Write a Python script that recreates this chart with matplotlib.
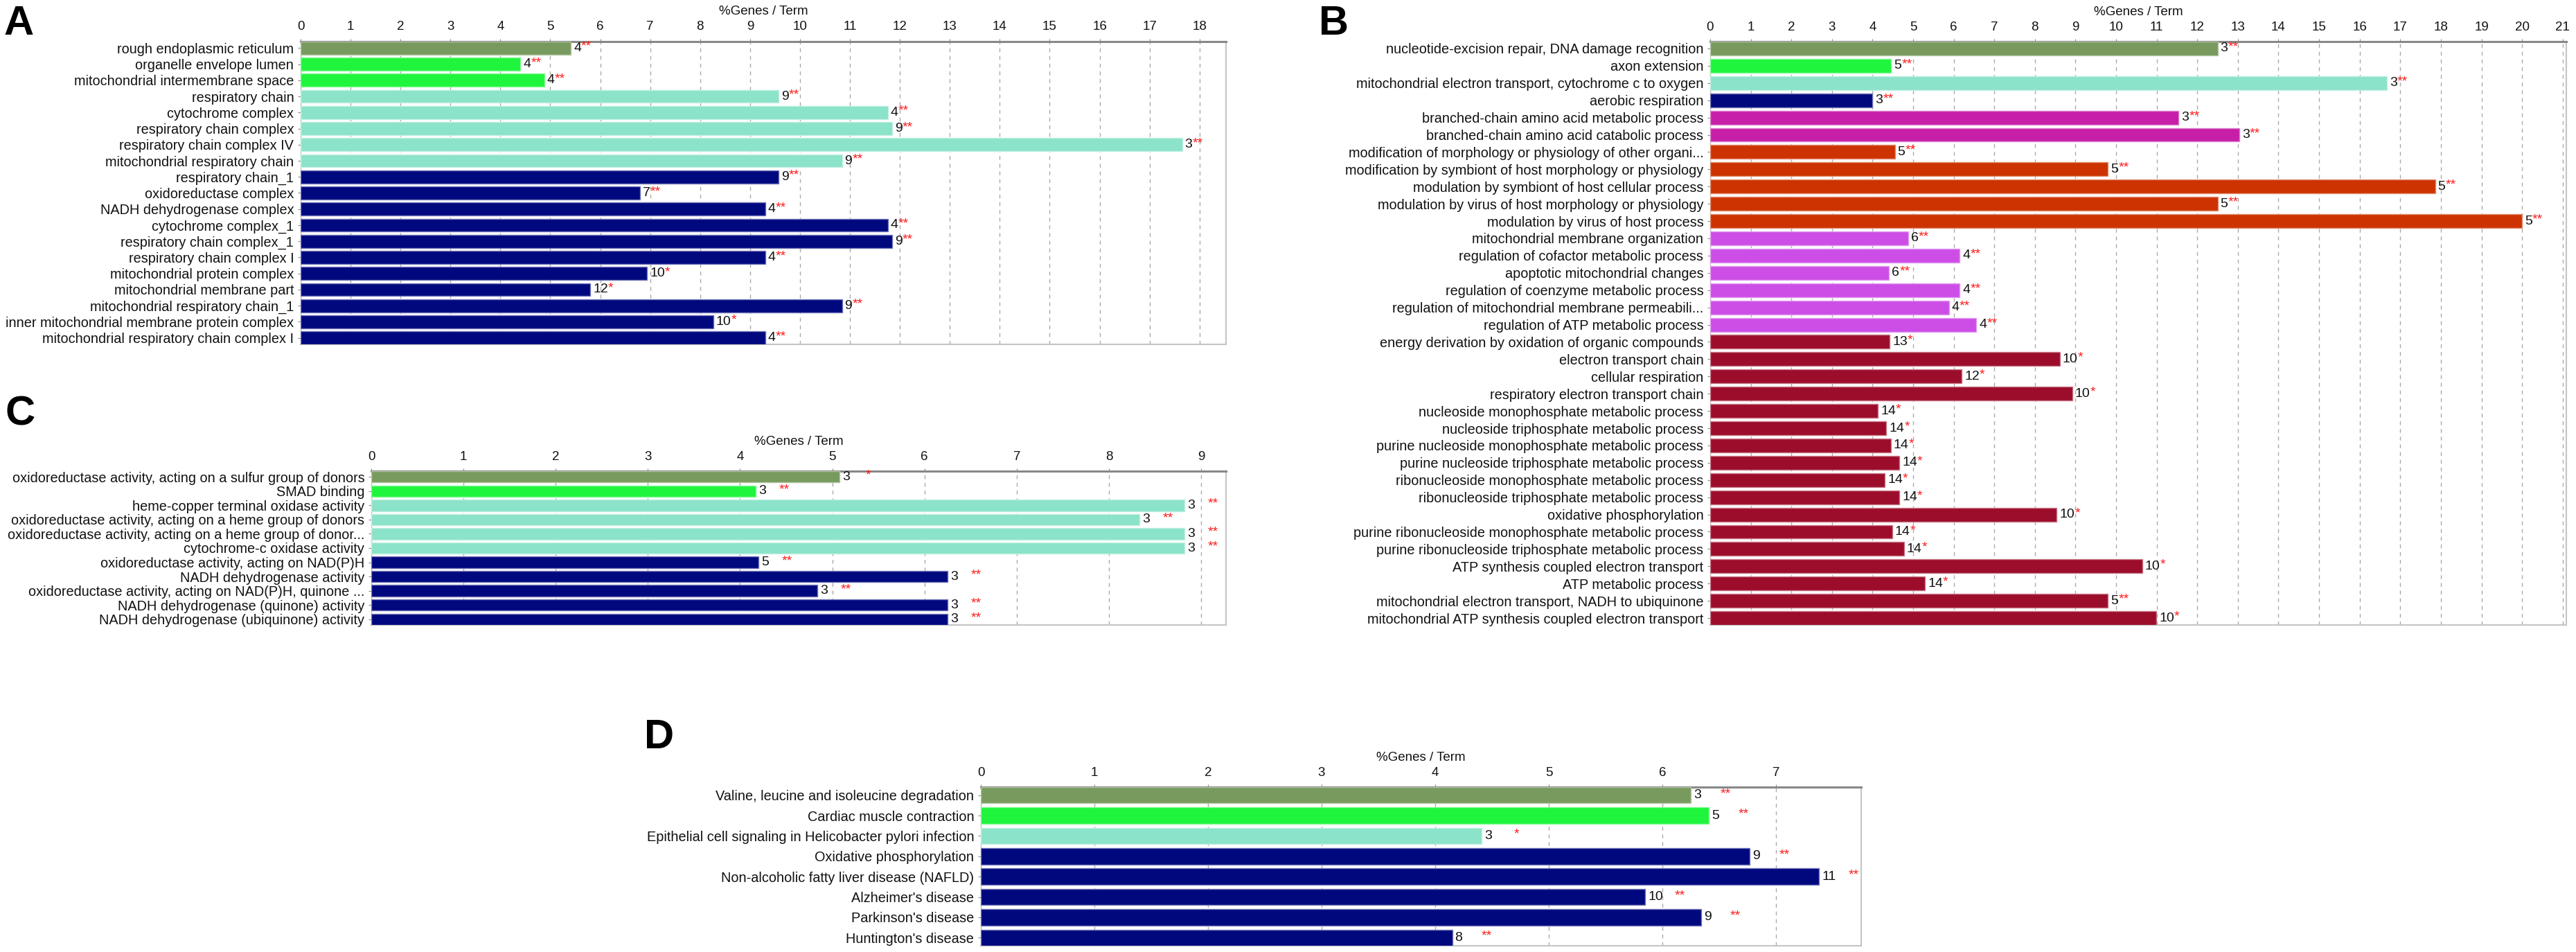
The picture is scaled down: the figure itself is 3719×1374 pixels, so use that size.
import matplotlib
matplotlib.use("Agg")
import matplotlib.pyplot as plt
from matplotlib import colors as mcolors

W, H, DPI = 3719, 1374, 100
FONT = ["Liberation Sans", "DejaVu Sans"]
plt.rcParams["font.family"] = FONT

# ---------------- data ----------------
olive, green, aqua, navy = "#789a5e", "#1ef53c", "#8be3c9", "#00087e"
magenta, orange, lpurple, darkred = "#c71fa8", "#cc3300", "#cc4ee6", "#9c0d2b"

a_terms = ["rough endoplasmic reticulum", "organelle envelope lumen",
           "mitochondrial intermembrane space", "respiratory chain",
           "cytochrome complex", "respiratory chain complex",
           "respiratory chain complex IV", "mitochondrial respiratory chain",
           "respiratory chain_1", "oxidoreductase complex",
           "NADH dehydrogenase complex", "cytochrome complex_1",
           "respiratory chain complex_1", "respiratory chain complex I",
           "mitochondrial protein complex", "mitochondrial membrane part",
           "mitochondrial respiratory chain_1",
           "inner mitochondrial membrane protein complex",
           "mitochondrial respiratory chain complex I"]
a_values = [5.41, 4.40, 4.88, 9.57, 11.76, 11.84, 17.65, 10.84, 9.57, 6.80,
            9.30, 11.76, 11.84, 9.30, 6.94, 5.80, 10.84, 8.26, 9.30]
a_counts = ["4", "4", "4", "9", "4", "9", "3", "9", "9", "7", "4", "4", "9",
            "4", "10", "12", "9", "10", "4"]
a_stars = ["**"] * 14 + ["*", "*", "**", "*", "**"]
a_colors = [olive] + [green] * 2 + [aqua] * 5 + [navy] * 11
a_ticks = list(range(0, 19))

b_terms = ["nucleotide-excision repair, DNA damage recognition", "axon extension",
           "mitochondrial electron transport, cytochrome c to oxygen",
           "aerobic respiration", "branched-chain amino acid metabolic process",
           "branched-chain amino acid catabolic process",
           "modification of morphology or physiology of other organi...",
           "modification by symbiont of host morphology or physiology",
           "modulation by symbiont of host cellular process",
           "modulation by virus of host morphology or physiology",
           "modulation by virus of host process",
           "mitochondrial membrane organization",
           "regulation of cofactor metabolic process",
           "apoptotic mitochondrial changes",
           "regulation of coenzyme metabolic process",
           "regulation of mitochondrial membrane permeabili...",
           "regulation of ATP metabolic process",
           "energy derivation by oxidation of organic compounds",
           "electron transport chain", "cellular respiration",
           "respiratory electron transport chain",
           "nucleoside monophosphate metabolic process",
           "nucleoside triphosphate metabolic process",
           "purine nucleoside monophosphate metabolic process",
           "purine nucleoside triphosphate metabolic process",
           "ribonucleoside monophosphate metabolic process",
           "ribonucleoside triphosphate metabolic process",
           "oxidative phosphorylation",
           "purine ribonucleoside monophosphate metabolic process",
           "purine ribonucleoside triphosphate metabolic process",
           "ATP synthesis coupled electron transport",
           "ATP metabolic process",
           "mitochondrial electron transport, NADH to ubiquinone",
           "mitochondrial ATP synthesis coupled electron transport"]
b_values = [12.50, 4.46, 16.67, 4.00, 11.54, 13.04, 4.55, 9.80, 17.86, 12.50,
            20.00, 4.88, 6.15, 4.41, 6.15, 5.88, 6.56, 4.42, 8.61, 6.20, 8.92,
            4.13, 4.34, 4.45, 4.66, 4.30, 4.66, 8.54, 4.48, 4.77, 10.64, 5.29,
            9.80, 10.99]
b_counts = ["3", "5", "3", "3", "3", "3", "5", "5", "5", "5", "5", "6", "4", "6",
            "4", "4", "4", "13", "10", "12", "10", "14", "14", "14", "14", "14",
            "14", "10", "14", "14", "10", "14", "5", "10"]
b_stars = ["**"] * 17 + ["*"] * 15 + ["**", "*"]
b_colors = ([olive, green, aqua, navy] + [magenta] * 2 + [orange] * 5 +
            [lpurple] * 6 + [darkred] * 17)
b_ticks = list(range(0, 22))

c_terms = ["oxidoreductase activity, acting on a sulfur group of donors",
           "SMAD binding", "heme-copper terminal oxidase activity",
           "oxidoreductase activity, acting on a heme group of donors",
           "oxidoreductase activity, acting on a heme group of donor...",
           "cytochrome-c oxidase activity",
           "oxidoreductase activity, acting on NAD(P)H",
           "NADH dehydrogenase activity",
           "oxidoreductase activity, acting on NAD(P)H, quinone ...",
           "NADH dehydrogenase (quinone) activity",
           "NADH dehydrogenase (ubiquinone) activity"]
c_values = [5.08, 4.17, 8.82, 8.33, 8.82, 8.82, 4.20, 6.25, 4.84, 6.25, 6.25]
c_counts = ["3", "3", "3", "3", "3", "3", "5", "3", "3", "3", "3"]
c_stars = ["*"] + ["**"] * 10
c_colors = [olive, green] + [aqua] * 4 + [navy] * 5
c_ticks = list(range(0, 10))

d_terms = ["Valine, leucine and isoleucine degradation",
           "Cardiac muscle contraction",
           "Epithelial cell signaling in Helicobacter pylori infection",
           "Oxidative phosphorylation",
           "Non-alcoholic fatty liver disease (NAFLD)",
           "Alzheimer's disease", "Parkinson's disease", "Huntington's disease"]
d_values = [6.25, 6.41, 4.41, 6.77, 7.38, 5.85, 6.34, 4.15]
d_counts = ["3", "5", "3", "9", "11", "10", "9", "8"]
d_stars = ["**", "**", "*", "**", "**", "**", "**", "**"]
d_colors = [olive, green, aqua] + [navy] * 5
d_ticks = list(range(0, 8))

# ---------------- drawing ----------------
fig = plt.figure(figsize=(W / DPI, H / DPI), dpi=DPI)
PT = 72.0 / DPI  # points per pixel


def lighten(c, f):
    r, g, b = mcolors.to_rgb(c)
    return (r + (1 - r) * f, g + (1 - g) * f, b + (1 - b) * f)


def add_axes(left, top, right, bottom):
    return fig.add_axes([left / W, 1 - bottom / H, (right - left) / W,
                         (bottom - top) / H])


def panel(box, terms, values, counts, stars, cols, ticks, xmax,
          star_off, star_ha, label_fs=14.3):
    ax = add_axes(*box)
    n = len(terms)
    ys = list(range(n))
    ax.barh(ys, values, height=0.8, color=cols,
            edgecolor=[lighten(c, 0.45) for c in cols], linewidth=1.0,
            zorder=3)
    ax.set_xlim(0, xmax)
    ax.set_ylim(n - 0.6, -0.4)
    ax.set_yticks(ys)
    ax.set_yticklabels(terms, fontsize=label_fs, color="#111111")
    ax.xaxis.tick_top()
    ax.set_xticks(ticks)
    ax.set_xticklabels([str(t) for t in ticks], fontsize=13.5, color="#111111")
    ax.tick_params(axis="x", length=3, pad=6, color="#888888")
    ax.tick_params(axis="y", length=3, pad=4, color="#888888")
    ax.grid(axis="x", color="#aaaaaa", linestyle=(0, (4, 4)), linewidth=1.0,
            zorder=0)
    ax.set_axisbelow(True)
    ax.spines["top"].set_color("#888888")
    ax.spines["top"].set_linewidth(2.2)
    for s in ("right", "bottom"):
        ax.spines[s].set_color("#c4c4c4")
        ax.spines[s].set_linewidth(1.5)
    ax.spines["left"].set_color("#c4c4c4")
    ax.spines["left"].set_linewidth(1.0)
    for y, v, c, s in zip(ys, values, counts, stars):
        num = ax.annotate(c, xy=(v, y), xytext=(4 * PT, 0),
                          textcoords="offset points", ha="left", va="center",
                          fontsize=14, color="#111111", zorder=5)
        if star_ha == "after":
            # stars directly after the count, as in panels A and B
            ax.annotate(s, xy=(1, 0.5), xycoords=num,
                        xytext=(0, 2 * PT), textcoords="offset points",
                        ha="left", va="center", fontsize=14,
                        color="#ff1a1a", zorder=4)
        else:
            ax.annotate(s, xy=(v, y), xytext=(star_off * PT, 2 * PT),
                        textcoords="offset points", ha=star_ha, va="center",
                        fontsize=14, color="#ff1a1a", zorder=4)
    ax.annotate("%Genes / Term", xy=(0.5, 1), xycoords="axes fraction",
                xytext=(0, 43 * PT), textcoords="offset points",
                ha="center", va="center", fontsize=13.5, color="#111111")
    return ax


panel((434, 60, 1770, 497), a_terms, a_values, a_counts, a_stars, a_colors,
      a_ticks, 18.53, 0, "after")
panel((2469, 60, 3705, 902), b_terms, b_values, b_counts, b_stars, b_colors,
      b_ticks, 21.09, 0, "after")
panel((536, 680, 1770, 902), c_terms, c_values, c_counts, c_stars, c_colors,
      c_ticks, 9.27, 41, "center")
panel((1416, 1136, 2687, 1365), d_terms, d_values, d_counts, d_stars, d_colors,
      d_ticks, 7.75, 50, "center")

for letter, x, y in [("A", 6, 50), ("B", 1904, 50), ("C", 7, 613),
                     ("D", 930, 1080)]:
    fig.text(x / W, 1 - y / H, letter, fontsize=43, fontweight="bold",
             ha="left", va="baseline", color="black")

fig.savefig("out.png", dpi=DPI, facecolor="white")
